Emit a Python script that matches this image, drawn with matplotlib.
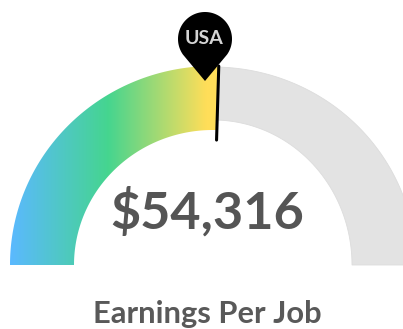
import matplotlib
matplotlib.use("Agg")
import matplotlib.pyplot as plt
import numpy as np
from matplotlib.patches import Polygon
from matplotlib.colors import LinearSegmentedColormap

# chart data
value = 54316
value_max = 106700
value_label = "$54,316"
title = "Earnings Per Job"
pin_label = "USA"
grad_colors = ["#5bb9ff", "#45d58f", "#ffde59", "#ffde59"]
grad_stops = [0.0, 0.47, 0.94, 1.0]

# gauge geometry, in pixels
cx, cy = 213, 265
rx_out, ry_out = 203, 199


def arc_band(a0, a1, rx_in, ry_in, ry_top=ry_out):
    t = np.radians(np.linspace(a0, a1, 200))
    outer = np.c_[cx + rx_out * np.cos(t), cy - ry_top * np.sin(t)]
    inner = np.c_[cx + rx_in * np.cos(t[::-1]), cy - ry_in * np.sin(t[::-1])]
    return np.vstack([outer, inner])


fig = plt.figure(figsize=(4.03, 3.29), dpi=100)
ax = fig.add_axes([0, 0, 1, 1])

angle = 180 * (1 - value / value_max)

# grey rest of the scale
ax.add_patch(Polygon(arc_band(0, angle, 139, 145, 198), closed=True,
                     fc="#e3e3e3", ec="#dcdcdc", lw=0.6))

# coloured part, a horizontal gradient clipped to the band
band = Polygon(arc_band(angle, 180, 139, 135), closed=True, fc="none", ec="none")
ax.add_patch(band)
cmap = LinearSegmentedColormap.from_list("gauge", list(zip(grad_stops, grad_colors)))
needle_x = cx + rx_out * np.cos(np.radians(angle))
img = ax.imshow(np.linspace(0, 1, 256)[None, :], cmap=cmap, aspect="auto",
                extent=[cx - rx_out, needle_x, cy, cy - ry_out], zorder=1)
img.set_clip_path(band)
ax.set_xlim(0, 403)
ax.set_ylim(329, 0)
ax.axis("off")

# needle
t = np.radians(angle)
ax.plot([cx + 125 * np.cos(t), cx + rx_out * np.cos(t)],
        [cy - 125 * np.sin(t), cy - ry_out * np.sin(t)],
        color="black", lw=2.2, solid_capstyle="round", zorder=3)

# pin
px, py, pr = 205, 39, 27
tip = (205, 81)
arc = np.radians(np.linspace(215, -35, 80))
outline = np.c_[px + pr * np.cos(arc), py - pr * np.sin(arc)]
ax.add_patch(Polygon(np.vstack([[tip], outline]), closed=True, fc="black", ec="none", zorder=4))
ax.text(px - 1, py - 1, pin_label, color="#d4d4d4", fontsize=14, fontweight="bold",
        family="Lato", ha="center", va="center", zorder=5)

ax.text(207.5, 229, value_label, color="#555555", fontsize=37.5, fontweight="bold",
        family="Lato", ha="center", va="baseline", zorder=5)
ax.text(207.5, 323, title, color="#595959", fontsize=22.2, fontweight="bold",
        family="Lato", ha="center", va="baseline", zorder=5)

fig.savefig("out.png", dpi=100)
